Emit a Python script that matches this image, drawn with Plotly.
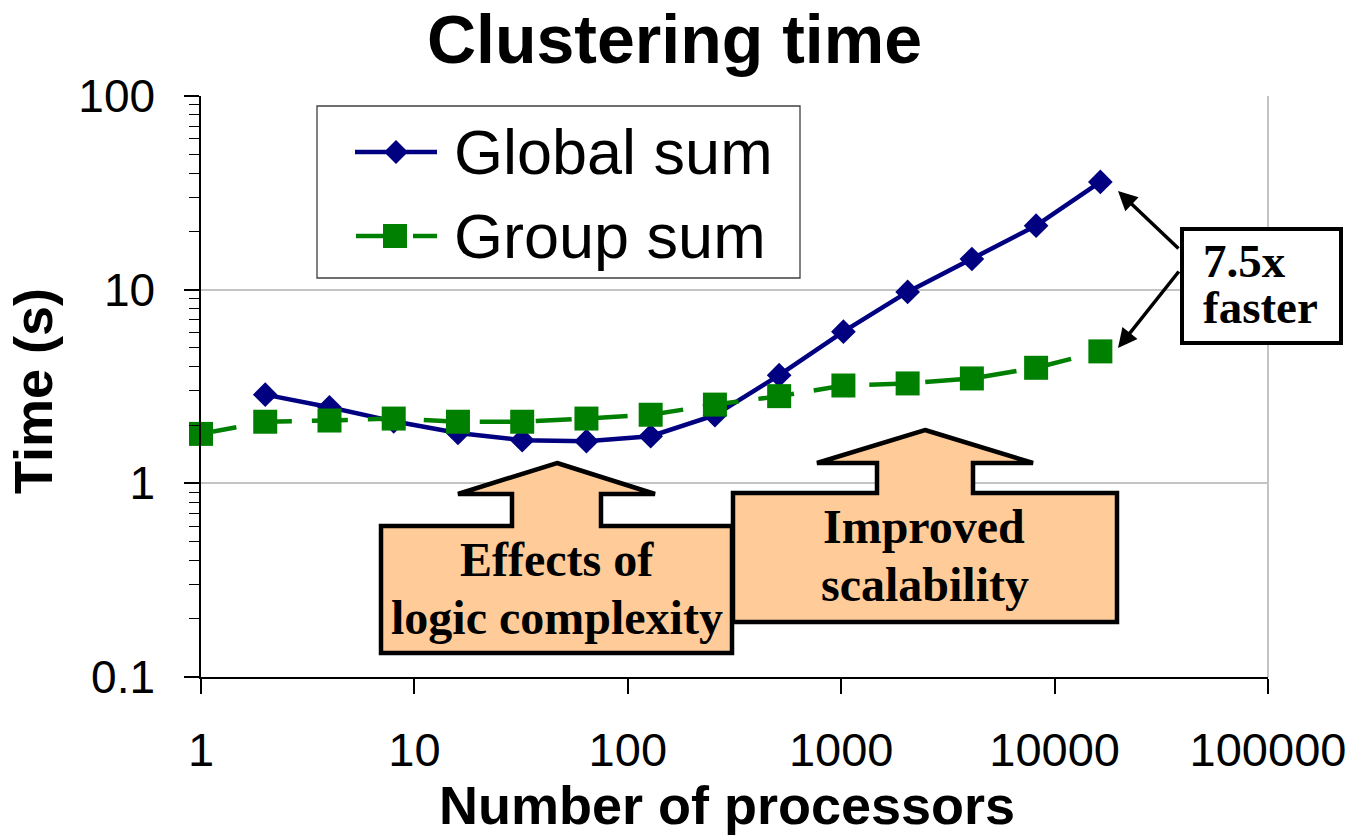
import plotly.graph_objects as go

# Clustering time vs. number of processors (log-log)
processors = [1, 2, 4, 8, 16, 32, 64, 128, 256, 512, 1024, 2048, 4096, 8192, 16384]
global_procs = [2, 4, 8, 16, 32, 64, 128, 256, 512, 1024, 2048, 4096, 8192, 16384]
global_sum = [2.87, 2.47, 2.09, 1.82, 1.67, 1.65, 1.75, 2.25, 3.62, 6.07, 9.74, 14.4, 21.4, 36.0]
group_sum = [1.8, 2.08, 2.11, 2.16, 2.08, 2.08, 2.16, 2.26, 2.55, 2.82, 3.2, 3.28, 3.48, 3.95, 4.8]

x_tickvals = [1, 10, 100, 1000, 10000, 100000]
x_ticktext = ["1", "10", "100", "1000", "10000", "100000"]
y_tickvals = [0.1, 1, 10, 100]
y_ticktext = ["0.1", "1", "10", "100"]

W, H = 1350, 838
PX0, PX1, PY0, PY1 = 201, 1268, 96, 677  # plot area in pixels


def fx(px):
    return (px - PX0) / (PX1 - PX0)


def fy(py):
    return (PY1 - py) / (PY1 - PY0)


def path(points):
    return "M " + " L ".join(f"{fx(a):.5f},{fy(b):.5f}" for a, b in points) + " Z"


NAVY = "#000080"
GREEN = "#008000"
PEACH = "#FFCC99"
SANS = "Liberation Sans, Arial, sans-serif"
SERIF = "Liberation Serif, Times New Roman, serif"

fig = go.Figure()
fig.add_trace(go.Scatter(
    x=global_procs, y=global_sum, name="Global sum", mode="lines+markers",
    line=dict(color=NAVY, width=4.5),
    marker=dict(symbol="diamond", size=19, color=NAVY),
    cliponaxis=False, showlegend=False))
fig.add_trace(go.Scatter(
    x=processors, y=group_sum, name="Group sum", mode="lines+markers",
    line=dict(color=GREEN, width=4.5, dash="36px,20px"),
    marker=dict(symbol="square", size=24, color=GREEN),
    cliponaxis=False, showlegend=False))

shapes = []
annotations = []

# right border of plot area
shapes.append(dict(type="line", xref="paper", yref="paper", x0=1, x1=1, y0=0, y1=1,
                   line=dict(color="#b0b0b0", width=1.5), layer="below"))

# legend box
shapes.append(dict(type="rect", xref="paper", yref="paper",
                   x0=fx(317), x1=fx(800), y0=fy(106), y1=fy(278),
                   line=dict(color="#404040", width=1.3), fillcolor="white"))
# legend: Global sum
shapes.append(dict(type="line", xref="paper", yref="paper",
                   x0=fx(355), x1=fx(437), y0=fy(152), y1=fy(152),
                   line=dict(color=NAVY, width=4.5)))
shapes.append(dict(type="path", xref="paper", yref="paper",
                   path=path([(396, 140), (408, 152), (396, 164), (384, 152)]),
                   fillcolor=NAVY, line=dict(color=NAVY, width=0)))
# legend: Group sum
shapes.append(dict(type="line", xref="paper", yref="paper",
                   x0=fx(356), x1=fx(384), y0=fy(236), y1=fy(236),
                   line=dict(color=GREEN, width=4.5)))
shapes.append(dict(type="line", xref="paper", yref="paper",
                   x0=fx(413), x1=fx(437), y0=fy(236), y1=fy(236),
                   line=dict(color=GREEN, width=4.5)))
shapes.append(dict(type="rect", xref="paper", yref="paper",
                   x0=fx(383), x1=fx(407), y0=fy(224), y1=fy(248),
                   fillcolor=GREEN, line=dict(color=GREEN, width=0)))
for label, yy in [("Global sum", 152), ("Group sum", 236)]:
    annotations.append(dict(text=label, xref="paper", yref="paper", x=fx(452), y=fy(yy),
                            xanchor="left", yanchor="middle", showarrow=False,
                            font=dict(family=SANS, size=63, color="black")))

# up-arrow callouts
callout_scal = [(925, 430), (1033, 463), (973, 463), (973, 493), (1117, 493), (1117, 622),
                (733, 622), (733, 493), (877, 493), (877, 463), (817, 463)]
callout_logic = [(557, 463), (655, 494), (601, 494), (601, 526), (732, 526), (732, 653),
                 (381, 653), (381, 526), (512, 526), (512, 494), (458, 494)]
for pts in (callout_scal, callout_logic):
    shapes.append(dict(type="path", xref="paper", yref="paper", path=path(pts),
                       fillcolor=PEACH, line=dict(color="black", width=4.5)))

for text, cx, cy in [("Effects of", 557, 559), ("logic complexity", 557, 617),
                     ("Improved", 924, 526), ("scalability", 925, 584)]:
    annotations.append(dict(text=f"<b>{text}</b>", xref="paper", yref="paper",
                            x=fx(cx), y=fy(cy), xanchor="center", yanchor="middle",
                            showarrow=False, font=dict(family=SERIF, size=48, color="black")))

# speedup box with arrows
shapes.append(dict(type="rect", xref="paper", yref="paper",
                   x0=fx(1182), x1=fx(1341), y0=fy(229), y1=fy(343),
                   fillcolor="white", line=dict(color="black", width=4)))
for text, yy in [("7.5x", 261), ("faster", 307)]:
    annotations.append(dict(text=f"<b>{text}</b>", xref="paper", yref="paper",
                            x=fx(1201), y=fy(yy), xanchor="left", yanchor="middle",
                            showarrow=False, font=dict(family=SERIF, size=47, color="black")))
for hx, hy, ax, ay in [(1118, 191, 62, 59), (1118, 348, 62, -78)]:
    annotations.append(dict(text="", xref="paper", yref="paper", x=fx(hx), y=fy(hy),
                            ax=ax, ay=ay, showarrow=True, arrowhead=2, arrowsize=1.1,
                            arrowwidth=3.5, arrowcolor="black", standoff=0))

# titles
annotations.append(dict(text="<b>Clustering time</b>", xref="paper", yref="paper",
                        x=fx(674), y=fy(39), xanchor="center", yanchor="middle",
                        showarrow=False, font=dict(family=SANS, size=68, color="black")))
annotations.append(dict(text="<b>Number of processors</b>", xref="paper", yref="paper",
                        x=fx(727), y=fy(805), xanchor="center", yanchor="middle",
                        showarrow=False, font=dict(family=SANS, size=54, color="black")))
annotations.append(dict(text="<b>Time (s)</b>", xref="paper", yref="paper",
                        x=fx(33), y=fy(391), xanchor="center", yanchor="middle",
                        textangle=-90, showarrow=False,
                        font=dict(family=SANS, size=54, color="black")))

fig.update_layout(
    width=W, height=H,
    margin=dict(l=PX0, r=W - PX1, t=PY0, b=H - PY1, pad=0, autoexpand=False),
    paper_bgcolor="white", plot_bgcolor="white",
    shapes=shapes, annotations=annotations,
    xaxis=dict(type="log", range=[0, 5], tickvals=x_tickvals, ticktext=x_ticktext,
               automargin=False,
               showgrid=False, zeroline=False, showline=True, linecolor="black", linewidth=1.5,
               ticks="outside", ticklen=15, tickwidth=1.5, tickcolor="black",
               ticklabelstandoff=16,
               tickfont=dict(family=SANS, size=47, color="black")),
    yaxis=dict(type="log", range=[-1, 2], tickvals=y_tickvals, ticktext=y_ticktext,
               automargin=False,
               showgrid=True, gridcolor="#c4c4c4", gridwidth=1.5,
               zeroline=False, showline=True, linecolor="black", linewidth=1.5,
               ticks="outside", ticklen=15, tickwidth=1.5, tickcolor="black",
               ticklabelstandoff=20,
               minor=dict(ticks="outside", ticklen=10, tickwidth=1.2, tickcolor="black",
                          dtick="D1", showgrid=False),
               tickfont=dict(family=SANS, size=46, color="black")),
)

fig.write_html("out.html")
